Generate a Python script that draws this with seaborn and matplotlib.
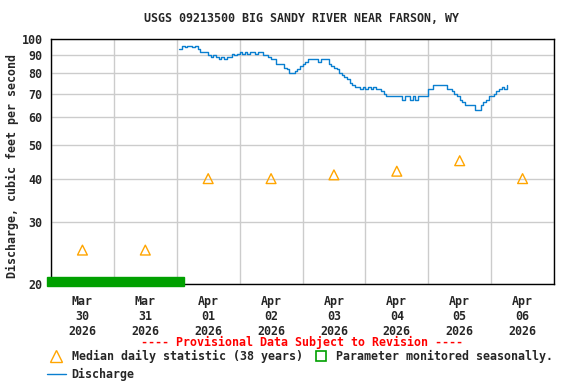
import pandas as pd
import matplotlib
matplotlib.use("Agg")
import matplotlib.pyplot as plt
import matplotlib.dates as mdates
from matplotlib.patches import Rectangle
from matplotlib.lines import Line2D
from matplotlib.ticker import FixedLocator, FixedFormatter, NullLocator
import seaborn as sns

# daily median statistic (38 years), plotted at noon of each day
median_days = ["2026-03-30 12:00", "2026-03-31 12:00", "2026-04-01 12:00", "2026-04-02 12:00",
               "2026-04-03 12:00", "2026-04-04 12:00", "2026-04-05 12:00", "2026-04-06 12:00"]
median_values = [25, 25, 40, 40, 41, 42, 45, 40]

# hourly discharge, cfs, starting 2026-04-01 01:00
discharge_start = "2026-04-01 01:00"
discharge_values = [
    94, 96, 95, 96, 96, 95, 96, 94, 92, 92, 92, 90,
    89, 90, 89, 88, 89, 88, 89, 89, 91, 90, 91, 92,
    91, 92, 91, 92, 92, 91, 92, 92, 90, 90, 89, 88,
    88, 85, 85, 85, 83, 82, 80, 80, 81, 82, 84, 85,
    86, 88, 88, 88, 88, 86, 88, 88, 88, 85, 84, 83,
    82, 80, 79, 78, 77, 75, 74, 73, 73, 72, 73, 72,
    73, 72, 73, 72, 72, 71, 70, 69, 69, 69, 69, 69,
    69, 67, 69, 69, 67, 69, 67, 69, 69, 69, 69, 72,
    72, 74, 74, 74, 74, 74, 72, 72, 71, 70, 69, 67,
    66, 65, 65, 65, 65, 63, 63, 65, 66, 67, 69, 69,
    70, 71, 72, 73, 72, 74,
]

# seasonal monitoring gap (green bar)
seasonal_start = "2026-03-29 22:30"
seasonal_end = "2026-04-01 02:40"

y_ticks = [20, 30, 40, 50, 60, 70, 80, 90, 100]
day_labels = ["Mar\n30\n2026", "Mar\n31\n2026", "Apr\n01\n2026", "Apr\n02\n2026",
              "Apr\n03\n2026", "Apr\n04\n2026", "Apr\n05\n2026", "Apr\n06\n2026"]

LINE_BLUE = "#0a7fd0"
ORANGE = "#ffa500"
GREEN = "#00a000"
FS = 8.4

sns.set_style("white")
plt.rcParams["font.family"] = ["DejaVu Sans Mono"]
plt.rcParams["font.weight"] = "bold"

q = pd.DataFrame({
    "time": pd.date_range(discharge_start, periods=len(discharge_values), freq="h"),
    "cfs": discharge_values,
})
med = pd.DataFrame({"time": pd.to_datetime(median_days), "cfs": median_values})

fig = plt.figure(figsize=(5.76, 3.84), dpi=100)
ax = fig.add_axes([51 / 576, 1 - 284 / 384, 503 / 576, 244.7 / 384])

sns.lineplot(data=q, x="time", y="cfs", ax=ax, color=LINE_BLUE, lw=1.0,
             drawstyle="steps-post")
sns.scatterplot(data=med, x="time", y="cfs", ax=ax, marker="^", s=50,
                facecolors="none", edgecolor=ORANGE, linewidth=1.0, zorder=4)

ax.set_yscale("log")
ax.set_ylim(20, 100)
ax.yaxis.set_major_locator(FixedLocator(y_ticks))
ax.yaxis.set_major_formatter(FixedFormatter([str(v) for v in y_ticks]))
ax.yaxis.set_minor_locator(NullLocator())

x0 = pd.Timestamp("2026-03-30")
ax.set_xlim(x0, pd.Timestamp("2026-04-07"))
ax.xaxis.set_major_locator(mdates.DayLocator())
ax.xaxis.set_major_formatter(plt.NullFormatter())
ax.xaxis.set_minor_locator(FixedLocator(mdates.date2num(pd.to_datetime(median_days))))
ax.xaxis.set_minor_formatter(FixedFormatter(day_labels))

ax.grid(True, which="major", color="#cccccc", lw=1.0)
ax.tick_params(axis="both", which="both", length=0, labelsize=FS)
ax.tick_params(axis="y", pad=6)
ax.tick_params(axis="x", which="minor", pad=8)
for lab in ax.get_xticklabels(minor=True) + ax.get_yticklabels():
    lab.set_fontweight("bold")
ax.set_xlabel("")
ax.set_ylabel("")
for sp in ax.spines.values():
    sp.set_color("black")
    sp.set_linewidth(1.0)

# green seasonal bar along the bottom
xs = mdates.date2num(pd.Timestamp(seasonal_start))
xe = mdates.date2num(pd.Timestamp(seasonal_end))
ax.add_patch(Rectangle((xs, -0.008), xe - xs, 0.037, transform=ax.get_xaxis_transform(),
                       color=GREEN, clip_on=False, zorder=5))

fig.text(302 / 576, 1 - 19 / 384, "USGS 09213500 BIG SANDY RIVER NEAR FARSON, WY",
         ha="center", va="center", fontsize=FS, fontweight="bold")
fig.text(12 / 576, 1 - 166 / 384, "Discharge, cubic feet per second", rotation=90,
         ha="center", va="center", fontsize=FS, fontweight="bold")
fig.text(302 / 576, 1 - 342 / 384, "---- Provisional Data Subject to Revision ----",
         ha="center", va="center", fontsize=FS, fontweight="bold", color="red")

handles = [
    Line2D([], [], ls="none", marker="^", ms=8, mfc="none", mec=ORANGE, mew=1.0),
    Line2D([], [], color=LINE_BLUE, lw=1.0),
    Line2D([], [], ls="none", marker="s", ms=7, mfc="none", mec=GREEN, mew=1.2),
]
labels = ["Median daily statistic (38 years)", "Discharge", "Parameter monitored seasonally."]
fig.legend(handles, labels, loc="upper left", bbox_to_anchor=(47 / 576, 1 - 350 / 384),
           ncol=2, frameon=False, fontsize=FS, handlelength=1.6, handletextpad=0.5,
           columnspacing=0.8, labelspacing=0.4, borderpad=0, borderaxespad=0,
           prop={"weight": "bold", "size": FS})

fig.savefig("out.png", dpi=100)
